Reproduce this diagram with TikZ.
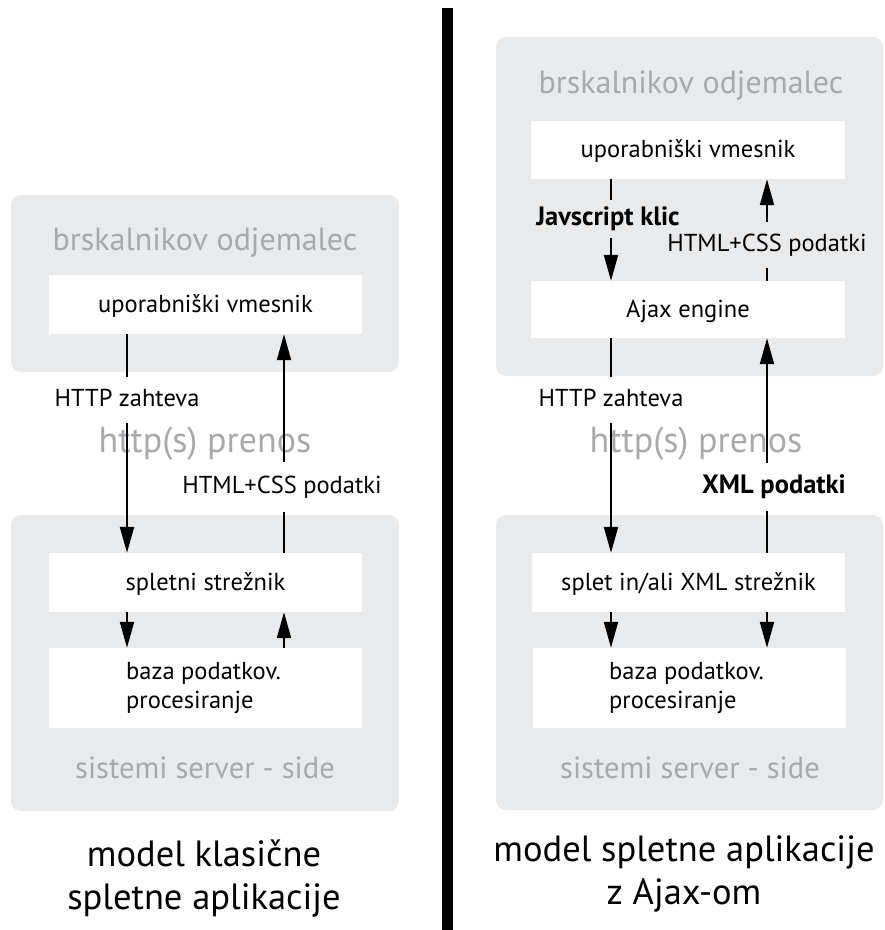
\documentclass[tikz,border=0pt]{standalone}
\usepackage{fontspec}
\setmainfont{PT Sans}
\usetikzlibrary{arrows.meta}
\definecolor{boxgray}{RGB}{233,234,236}
\definecolor{txtgray}{RGB}{167,169,172}
\begin{document}
\begin{tikzpicture}[x=1pt,y=-1pt,
  graybox/.style={fill=boxgray, rounded corners=10pt, inner sep=0pt},
  whitebox/.style={fill=white, inner sep=0pt, text height=18pt, text depth=3pt, font=\fontsize{24.5}{28}\selectfont},
  graylabel/.style={text=txtgray, inner sep=0pt, anchor=base, font=\fontsize{32}{38}\selectfont},
  lbl/.style={inner sep=0pt, minimum height=46pt, text height=17pt, text depth=5pt, font=\fontsize{24.5}{28}\selectfont},
  boldlbl/.style={lbl, font=\bfseries\fontsize{26.5}{30}\selectfont},
  conn/.style={line width=2pt},
  arr/.style={line width=2pt, -{Triangle[length=26pt,width=14pt]}},
  captiontext/.style={align=center, inner sep=0pt, font=\fontsize{36.5}{43}\selectfont}
]
\useasboundingbox (0,0) rectangle (885,930);

% gray containers
\node[graybox, minimum width=388pt, minimum height=177pt] (clientL) at (205,283.5) {};
\node[graybox, minimum width=388pt, minimum height=296pt] (serverL) at (205,663) {};
\node[graybox, minimum width=387pt, minimum height=339pt] (clientR) at (689.5,206.5) {};
\node[graybox, minimum width=387pt, minimum height=295pt] (serverR) at (689.5,662.5) {};

% container titles
\node[graylabel] (brL) at (205,250) {brskalnikov odjemalec};
\node[graylabel] (brR) at (691,93) {brskalnikov odjemalec};
\node[graylabel, font=\fontsize{30.5}{36}\selectfont] (sysL) at (205,778) {sistemi server - side};
\node[graylabel, font=\fontsize{30.5}{36}\selectfont] (sysR) at (690,778) {sistemi server - side};
\node[graylabel, font=\fontsize{36}{43}\selectfont] (prenosL) at (205,452) {http(s) prenos};
\node[graylabel, font=\fontsize{36}{43}\selectfont] (prenosR) at (696,452) {http(s) prenos};

% white boxes
\node[whitebox, minimum width=313pt, minimum height=59pt] (uiL) at (205.5,304.5) {uporabniški vmesnik};
\node[whitebox, minimum width=313pt, minimum height=59pt] (splL) at (205.5,582.5) {spletni strežnik};
\node[whitebox, minimum width=313pt, minimum height=80pt] (bazaL) at (205.5,688) {};
\node[anchor=west, align=left, inner sep=0pt, font=\fontsize{24.5}{29}\selectfont] (bazaLtxt) at (126,688) {baza podatkov.\\procesiranje};

\node[whitebox, minimum width=314pt, minimum height=58pt] (uiR) at (688,150) {uporabniški vmesnik};
\node[whitebox, minimum width=314pt, minimum height=57pt] (ajaxR) at (688,309.5) {Ajax engine};
\node[whitebox, minimum width=313pt, minimum height=59pt] (splR) at (688.5,582.5) {splet in/ali XML strežnik};
\node[whitebox, minimum width=313pt, minimum height=80pt] (bazaR) at (689.5,688) {};
\node[anchor=west, align=left, inner sep=0pt, font=\fontsize{24.5}{29}\selectfont] (bazaRtxt) at (609,688) {baza podatkov.\\procesiranje};

% arrow columns
\coordinate (cL1) at (127,0);
\coordinate (cL2) at (284,0);
\coordinate (cR1) at (611,0);
\coordinate (cR2) at (767,0);

% connector labels
\node[lbl] (httpL) at (127,400) {HTTP zahteva};
\node[lbl, minimum height=50pt] (htmlL) at (282,487) {HTML+CSS podatki};
\node[boldlbl, minimum height=38pt] (jsR) at (608,219) {Javscript klic};
\node[lbl, minimum height=45pt] (htmlR) at (767,245) {HTML+CSS podatki};
\node[lbl] (httpR) at (611,400) {HTTP zahteva};
\node[boldlbl, minimum height=48pt] (xmlR) at (774,487) {XML podatki};

% left connectors
\draw[conn] (uiL.south -| cL1) -- (httpL.north -| cL1);
\draw[arr] (httpL.south -| cL1) -- (splL.north -| cL1);
\draw[conn] (splL.north -| cL2) -- (htmlL.south -| cL2);
\draw[arr] (htmlL.north -| cL2) -- (uiL.south -| cL2);
\draw[arr] (splL.south -| cL1) -- (bazaL.north -| cL1);
\draw[arr] (bazaL.north -| cL2) -- (splL.south -| cL2);

% right connectors
\draw[conn] (uiR.south -| cR1) -- (jsR.north -| cR1);
\draw[arr] (jsR.south -| cR1) -- (ajaxR.north -| cR1);
\draw[conn] (ajaxR.north -| cR2) -- (htmlR.south -| cR2);
\draw[arr] (htmlR.north -| cR2) -- (uiR.south -| cR2);
\draw[conn] (ajaxR.south -| cR1) -- (httpR.north -| cR1);
\draw[arr] (httpR.south -| cR1) -- (splR.north -| cR1);
\draw[conn] (splR.north -| cR2) -- (xmlR.south -| cR2);
\draw[arr] (xmlR.north -| cR2) -- (ajaxR.south -| cR2);
\draw[arr] (splR.south -| cR1) -- (bazaR.north -| cR1);
\draw[arr] (splR.south -| cR2) -- (bazaR.north -| cR2);

% divider
\fill[black] (442,8) rectangle (453,930);

% captions
\node[captiontext] (capL) at (204,878) {model klasične\\spletne aplikacije};
\node[captiontext] (capR) at (684,874) {model spletne aplikacije\\z Ajax-om};
\end{tikzpicture}
\end{document}
